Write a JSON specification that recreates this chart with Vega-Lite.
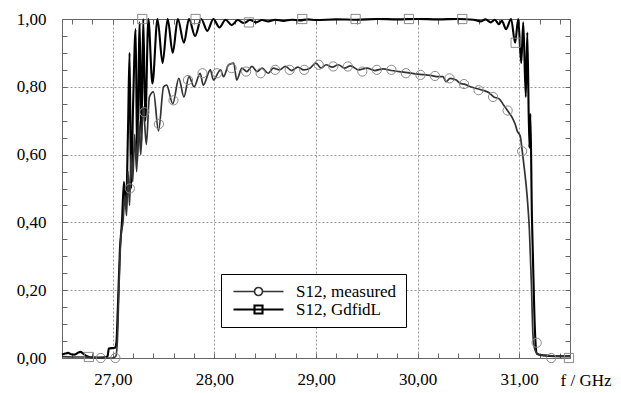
{
  "$schema": "https://vega.github.io/schema/vega-lite/v6.json",
  "width": 508,
  "height": 339,
  "autosize": "none",
  "padding": {"left": 62, "top": 19, "right": 51, "bottom": 35},
  "background": "#ffffff",
  "config": {
    "view": {"stroke": null},
    "font": "Liberation Serif",
    "axis": {"labelFont": "Liberation Serif", "titleFont": "Liberation Serif", "labelFontSize": 17, "titleFontSize": 17, "labelColor": "#000", "titleColor": "#000", "titleFontWeight": "normal", "domainColor": "#666", "tickColor": "#666"}
  },
  "datasets": {
    "curves": [
      {"f": 26.50, "s": 0.010, "series": "S12, GdfidL"},
      {"f": 26.53, "s": 0.013, "series": "S12, GdfidL"},
      {"f": 26.56, "s": 0.015, "series": "S12, GdfidL"},
      {"f": 26.59, "s": 0.011, "series": "S12, GdfidL"},
      {"f": 26.62, "s": 0.010, "series": "S12, GdfidL"},
      {"f": 26.65, "s": 0.014, "series": "S12, GdfidL"},
      {"f": 26.68, "s": 0.018, "series": "S12, GdfidL"},
      {"f": 26.71, "s": 0.013, "series": "S12, GdfidL"},
      {"f": 26.74, "s": 0.006, "series": "S12, GdfidL"},
      {"f": 26.78, "s": 0.002, "series": "S12, GdfidL"},
      {"f": 26.85, "s": 0.001, "series": "S12, GdfidL"},
      {"f": 26.92, "s": 0.002, "series": "S12, GdfidL"},
      {"f": 26.95, "s": 0.006, "series": "S12, GdfidL"},
      {"f": 26.96, "s": 0.028, "series": "S12, GdfidL"},
      {"f": 27.02, "s": 0.030, "series": "S12, GdfidL"},
      {"f": 27.035, "s": 0.045, "series": "S12, GdfidL"},
      {"f": 27.05, "s": 0.15, "series": "S12, GdfidL"},
      {"f": 27.07, "s": 0.32, "series": "S12, GdfidL"},
      {"f": 27.09, "s": 0.40, "series": "S12, GdfidL"},
      {"f": 27.11, "s": 0.52, "series": "S12, GdfidL"},
      {"f": 27.13, "s": 0.44, "series": "S12, GdfidL"},
      {"f": 27.15, "s": 0.68, "series": "S12, GdfidL"},
      {"f": 27.165, "s": 0.90, "series": "S12, GdfidL"},
      {"f": 27.18, "s": 0.50, "series": "S12, GdfidL"},
      {"f": 27.20, "s": 0.75, "series": "S12, GdfidL"},
      {"f": 27.225, "s": 0.97, "series": "S12, GdfidL"},
      {"f": 27.24, "s": 0.58, "series": "S12, GdfidL"},
      {"f": 27.265, "s": 0.99, "series": "S12, GdfidL"},
      {"f": 27.28, "s": 0.64, "series": "S12, GdfidL"},
      {"f": 27.30, "s": 1.00, "series": "S12, GdfidL"},
      {"f": 27.32, "s": 0.70, "series": "S12, GdfidL"},
      {"f": 27.35, "s": 1.00, "series": "S12, GdfidL"},
      {"f": 27.39, "s": 0.81, "series": "S12, GdfidL"},
      {"f": 27.44, "s": 1.00, "series": "S12, GdfidL"},
      {"f": 27.49, "s": 0.87, "series": "S12, GdfidL"},
      {"f": 27.54, "s": 1.00, "series": "S12, GdfidL"},
      {"f": 27.59, "s": 0.90, "series": "S12, GdfidL"},
      {"f": 27.64, "s": 1.00, "series": "S12, GdfidL"},
      {"f": 27.70, "s": 0.93, "series": "S12, GdfidL"},
      {"f": 27.75, "s": 1.00, "series": "S12, GdfidL"},
      {"f": 27.81, "s": 0.95, "series": "S12, GdfidL"},
      {"f": 27.87, "s": 1.00, "series": "S12, GdfidL"},
      {"f": 27.93, "s": 0.965, "series": "S12, GdfidL"},
      {"f": 27.99, "s": 1.00, "series": "S12, GdfidL"},
      {"f": 28.05, "s": 0.975, "series": "S12, GdfidL"},
      {"f": 28.11, "s": 0.998, "series": "S12, GdfidL"},
      {"f": 28.17, "s": 0.982, "series": "S12, GdfidL"},
      {"f": 28.23, "s": 0.997, "series": "S12, GdfidL"},
      {"f": 28.29, "s": 0.988, "series": "S12, GdfidL"},
      {"f": 28.35, "s": 0.997, "series": "S12, GdfidL"},
      {"f": 28.41, "s": 0.990, "series": "S12, GdfidL"},
      {"f": 28.47, "s": 0.997, "series": "S12, GdfidL"},
      {"f": 28.53, "s": 0.993, "series": "S12, GdfidL"},
      {"f": 28.60, "s": 0.998, "series": "S12, GdfidL"},
      {"f": 28.68, "s": 0.994, "series": "S12, GdfidL"},
      {"f": 28.76, "s": 0.998, "series": "S12, GdfidL"},
      {"f": 28.84, "s": 0.996, "series": "S12, GdfidL"},
      {"f": 28.92, "s": 0.999, "series": "S12, GdfidL"},
      {"f": 29.00, "s": 0.997, "series": "S12, GdfidL"},
      {"f": 29.20, "s": 0.999, "series": "S12, GdfidL"},
      {"f": 29.40, "s": 0.998, "series": "S12, GdfidL"},
      {"f": 29.60, "s": 1.000, "series": "S12, GdfidL"},
      {"f": 29.80, "s": 0.999, "series": "S12, GdfidL"},
      {"f": 30.00, "s": 1.000, "series": "S12, GdfidL"},
      {"f": 30.20, "s": 0.999, "series": "S12, GdfidL"},
      {"f": 30.40, "s": 1.000, "series": "S12, GdfidL"},
      {"f": 30.55, "s": 0.998, "series": "S12, GdfidL"},
      {"f": 30.62, "s": 0.993, "series": "S12, GdfidL"},
      {"f": 30.67, "s": 0.999, "series": "S12, GdfidL"},
      {"f": 30.72, "s": 0.990, "series": "S12, GdfidL"},
      {"f": 30.76, "s": 0.998, "series": "S12, GdfidL"},
      {"f": 30.80, "s": 0.985, "series": "S12, GdfidL"},
      {"f": 30.83, "s": 0.995, "series": "S12, GdfidL"},
      {"f": 30.87, "s": 0.970, "series": "S12, GdfidL"},
      {"f": 30.92, "s": 1.000, "series": "S12, GdfidL"},
      {"f": 30.96, "s": 0.930, "series": "S12, GdfidL"},
      {"f": 30.99, "s": 1.000, "series": "S12, GdfidL"},
      {"f": 31.02, "s": 0.870, "series": "S12, GdfidL"},
      {"f": 31.04, "s": 0.990, "series": "S12, GdfidL"},
      {"f": 31.065, "s": 0.770, "series": "S12, GdfidL"},
      {"f": 31.08, "s": 0.960, "series": "S12, GdfidL"},
      {"f": 31.10, "s": 0.620, "series": "S12, GdfidL"},
      {"f": 31.11, "s": 0.720, "series": "S12, GdfidL"},
      {"f": 31.125, "s": 0.420, "series": "S12, GdfidL"},
      {"f": 31.135, "s": 0.300, "series": "S12, GdfidL"},
      {"f": 31.155, "s": 0.080, "series": "S12, GdfidL"},
      {"f": 31.175, "s": 0.012, "series": "S12, GdfidL"},
      {"f": 31.22, "s": 0.008, "series": "S12, GdfidL"},
      {"f": 31.30, "s": 0.006, "series": "S12, GdfidL"},
      {"f": 31.40, "s": 0.005, "series": "S12, GdfidL"},
      {"f": 31.50, "s": 0.005, "series": "S12, GdfidL"},

      {"f": 26.50, "s": 0.004, "series": "S12, measured"},
      {"f": 26.60, "s": 0.003, "series": "S12, measured"},
      {"f": 26.70, "s": 0.003, "series": "S12, measured"},
      {"f": 26.80, "s": 0.002, "series": "S12, measured"},
      {"f": 26.90, "s": 0.000, "series": "S12, measured"},
      {"f": 27.00, "s": 0.000, "series": "S12, measured"},
      {"f": 27.03, "s": 0.005, "series": "S12, measured"},
      {"f": 27.045, "s": 0.05, "series": "S12, measured"},
      {"f": 27.06, "s": 0.20, "series": "S12, measured"},
      {"f": 27.08, "s": 0.36, "series": "S12, measured"},
      {"f": 27.10, "s": 0.40, "series": "S12, measured"},
      {"f": 27.12, "s": 0.48, "series": "S12, measured"},
      {"f": 27.135, "s": 0.42, "series": "S12, measured"},
      {"f": 27.15, "s": 0.55, "series": "S12, measured"},
      {"f": 27.165, "s": 0.45, "series": "S12, measured"},
      {"f": 27.18, "s": 0.60, "series": "S12, measured"},
      {"f": 27.196, "s": 0.52, "series": "S12, measured"},
      {"f": 27.215, "s": 0.66, "series": "S12, measured"},
      {"f": 27.235, "s": 0.55, "series": "S12, measured"},
      {"f": 27.255, "s": 0.70, "series": "S12, measured"},
      {"f": 27.275, "s": 0.60, "series": "S12, measured"},
      {"f": 27.30, "s": 0.74, "series": "S12, measured"},
      {"f": 27.33, "s": 0.63, "series": "S12, measured"},
      {"f": 27.36, "s": 0.77, "series": "S12, measured"},
      {"f": 27.40, "s": 0.785, "series": "S12, measured"},
      {"f": 27.45, "s": 0.67, "series": "S12, measured"},
      {"f": 27.50, "s": 0.80, "series": "S12, measured"},
      {"f": 27.53, "s": 0.805, "series": "S12, measured"},
      {"f": 27.59, "s": 0.75, "series": "S12, measured"},
      {"f": 27.65, "s": 0.825, "series": "S12, measured"},
      {"f": 27.70, "s": 0.77, "series": "S12, measured"},
      {"f": 27.75, "s": 0.83, "series": "S12, measured"},
      {"f": 27.80, "s": 0.80, "series": "S12, measured"},
      {"f": 27.86, "s": 0.84, "series": "S12, measured"},
      {"f": 27.89, "s": 0.805, "series": "S12, measured"},
      {"f": 27.96, "s": 0.85, "series": "S12, measured"},
      {"f": 27.99, "s": 0.82, "series": "S12, measured"},
      {"f": 28.06, "s": 0.85, "series": "S12, measured"},
      {"f": 28.09, "s": 0.83, "series": "S12, measured"},
      {"f": 28.14, "s": 0.865, "series": "S12, measured"},
      {"f": 28.19, "s": 0.87, "series": "S12, measured"},
      {"f": 28.22, "s": 0.82, "series": "S12, measured"},
      {"f": 28.27, "s": 0.855, "series": "S12, measured"},
      {"f": 28.32, "s": 0.845, "series": "S12, measured"},
      {"f": 28.37, "s": 0.86, "series": "S12, measured"},
      {"f": 28.42, "s": 0.845, "series": "S12, measured"},
      {"f": 28.47, "s": 0.855, "series": "S12, measured"},
      {"f": 28.53, "s": 0.84, "series": "S12, measured"},
      {"f": 28.58, "s": 0.855, "series": "S12, measured"},
      {"f": 28.64, "s": 0.85, "series": "S12, measured"},
      {"f": 28.70, "s": 0.86, "series": "S12, measured"},
      {"f": 28.76, "s": 0.848, "series": "S12, measured"},
      {"f": 28.82, "s": 0.858, "series": "S12, measured"},
      {"f": 28.88, "s": 0.85, "series": "S12, measured"},
      {"f": 28.94, "s": 0.855, "series": "S12, measured"},
      {"f": 29.00, "s": 0.87, "series": "S12, measured"},
      {"f": 29.05, "s": 0.855, "series": "S12, measured"},
      {"f": 29.10, "s": 0.865, "series": "S12, measured"},
      {"f": 29.16, "s": 0.858, "series": "S12, measured"},
      {"f": 29.22, "s": 0.865, "series": "S12, measured"},
      {"f": 29.28, "s": 0.855, "series": "S12, measured"},
      {"f": 29.34, "s": 0.862, "series": "S12, measured"},
      {"f": 29.42, "s": 0.85, "series": "S12, measured"},
      {"f": 29.50, "s": 0.855, "series": "S12, measured"},
      {"f": 29.58, "s": 0.848, "series": "S12, measured"},
      {"f": 29.66, "s": 0.853, "series": "S12, measured"},
      {"f": 29.74, "s": 0.848, "series": "S12, measured"},
      {"f": 29.82, "s": 0.845, "series": "S12, measured"},
      {"f": 29.90, "s": 0.842, "series": "S12, measured"},
      {"f": 29.98, "s": 0.838, "series": "S12, measured"},
      {"f": 30.06, "s": 0.836, "series": "S12, measured"},
      {"f": 30.14, "s": 0.833, "series": "S12, measured"},
      {"f": 30.20, "s": 0.83, "series": "S12, measured"},
      {"f": 30.25, "s": 0.83, "series": "S12, measured"},
      {"f": 30.28, "s": 0.815, "series": "S12, measured"},
      {"f": 30.32, "s": 0.825, "series": "S12, measured"},
      {"f": 30.38, "s": 0.82, "series": "S12, measured"},
      {"f": 30.42, "s": 0.81, "series": "S12, measured"},
      {"f": 30.46, "s": 0.808, "series": "S12, measured"},
      {"f": 30.52, "s": 0.80, "series": "S12, measured"},
      {"f": 30.58, "s": 0.795, "series": "S12, measured"},
      {"f": 30.64, "s": 0.79, "series": "S12, measured"},
      {"f": 30.70, "s": 0.783, "series": "S12, measured"},
      {"f": 30.75, "s": 0.77, "series": "S12, measured"},
      {"f": 30.80, "s": 0.765, "series": "S12, measured"},
      {"f": 30.85, "s": 0.745, "series": "S12, measured"},
      {"f": 30.89, "s": 0.728, "series": "S12, measured"},
      {"f": 30.93, "s": 0.71, "series": "S12, measured"},
      {"f": 30.96, "s": 0.69, "series": "S12, measured"},
      {"f": 30.98, "s": 0.67, "series": "S12, measured"},
      {"f": 31.01, "s": 0.655, "series": "S12, measured"},
      {"f": 31.03, "s": 0.61, "series": "S12, measured"},
      {"f": 31.05, "s": 0.56, "series": "S12, measured"},
      {"f": 31.08, "s": 0.47, "series": "S12, measured"},
      {"f": 31.10, "s": 0.38, "series": "S12, measured"},
      {"f": 31.12, "s": 0.22, "series": "S12, measured"},
      {"f": 31.135, "s": 0.07, "series": "S12, measured"},
      {"f": 31.15, "s": 0.03, "series": "S12, measured"},
      {"f": 31.17, "s": 0.015, "series": "S12, measured"},
      {"f": 31.20, "s": 0.01, "series": "S12, measured"},
      {"f": 31.30, "s": 0.007, "series": "S12, measured"},
      {"f": 31.40, "s": 0.005, "series": "S12, measured"},
      {"f": 31.50, "s": 0.005, "series": "S12, measured"}
    ],
    "markers": [
      {"f": 26.882, "s": 0.0, "kind": "measured"},
      {"f": 27.025, "s": 0.0, "kind": "measured"},
      {"f": 27.168, "s": 0.50, "kind": "measured"},
      {"f": 27.311, "s": 0.725, "kind": "measured"},
      {"f": 27.454, "s": 0.69, "kind": "measured"},
      {"f": 27.597, "s": 0.76, "kind": "measured"},
      {"f": 27.74, "s": 0.82, "kind": "measured"},
      {"f": 27.883, "s": 0.84, "kind": "measured"},
      {"f": 28.026, "s": 0.84, "kind": "measured"},
      {"f": 28.169, "s": 0.855, "kind": "measured"},
      {"f": 28.312, "s": 0.845, "kind": "measured"},
      {"f": 28.455, "s": 0.84, "kind": "measured"},
      {"f": 28.598, "s": 0.85, "kind": "measured"},
      {"f": 28.741, "s": 0.85, "kind": "measured"},
      {"f": 28.884, "s": 0.85, "kind": "measured"},
      {"f": 29.027, "s": 0.865, "kind": "measured"},
      {"f": 29.17, "s": 0.86, "kind": "measured"},
      {"f": 29.313, "s": 0.86, "kind": "measured"},
      {"f": 29.456, "s": 0.845, "kind": "measured"},
      {"f": 29.599, "s": 0.85, "kind": "measured"},
      {"f": 29.742, "s": 0.85, "kind": "measured"},
      {"f": 29.885, "s": 0.84, "kind": "measured"},
      {"f": 30.028, "s": 0.835, "kind": "measured"},
      {"f": 30.171, "s": 0.832, "kind": "measured"},
      {"f": 30.314, "s": 0.825, "kind": "measured"},
      {"f": 30.457, "s": 0.808, "kind": "measured"},
      {"f": 30.60, "s": 0.79, "kind": "measured"},
      {"f": 30.743, "s": 0.77, "kind": "measured"},
      {"f": 30.886, "s": 0.73, "kind": "measured"},
      {"f": 31.029, "s": 0.61, "kind": "measured"},
      {"f": 31.172, "s": 0.045, "kind": "measured"},
      {"f": 31.315, "s": 0.0, "kind": "measured"},
      {"f": 26.765, "s": 0.003, "kind": "GdfidL"},
      {"f": 27.29, "s": 1.0, "kind": "GdfidL"},
      {"f": 27.815, "s": 1.0, "kind": "GdfidL"},
      {"f": 28.34, "s": 0.99, "kind": "GdfidL"},
      {"f": 28.865, "s": 1.0, "kind": "GdfidL"},
      {"f": 29.39, "s": 1.0, "kind": "GdfidL"},
      {"f": 29.915, "s": 1.0, "kind": "GdfidL"},
      {"f": 30.44, "s": 1.0, "kind": "GdfidL"},
      {"f": 30.965, "s": 0.93, "kind": "GdfidL"},
      {"f": 31.49, "s": 0.0, "kind": "GdfidL"}
    ]
  },
  "layer": [
    {
      "data": {"name": "curves"},
      "mark": {"type": "line", "interpolate": "monotone"},
      "encoding": {
        "x": {
          "field": "f", "type": "quantitative",
          "scale": {"domain": [26.5, 31.5], "nice": false, "zero": false},
          "axis": {
            "values": [26.6, 26.8, 27, 27.2, 27.4, 27.6, 27.8, 28, 28.2, 28.4, 28.6, 28.8, 29, 29.2, 29.4, 29.6, 29.8, 30, 30.2, 30.4, 30.6, 30.8, 31, 31.2, 31.4],
            "labelExpr": "abs(datum.value - round(datum.value)) < 0.001 ? replace(format(datum.value, '.2f'), '.', ',') : ''",
            "labelFlush": false, "labelOverlap": false,
            "grid": true, "gridColor": "#999", "gridDash": [2, 2], "gridWidth": 1,
            "gridOpacity": {"condition": {"test": "abs(datum.value - round(datum.value)) < 0.001", "value": 1}, "value": 0},
            "tickSize": -5, "labelPadding": 18,
            "title": "f / GHz", "titleX": 549, "titleY": 27, "titleAlign": "right", "titleBaseline": "alphabetic", "titleAnchor": null
          }
        },
        "y": {
          "field": "s", "type": "quantitative",
          "scale": {"domain": [0, 1], "nice": false},
          "axis": {
            "values": [0, 0.05, 0.1, 0.15, 0.2, 0.25, 0.3, 0.35, 0.4, 0.45, 0.5, 0.55, 0.6, 0.65, 0.7, 0.75, 0.8, 0.85, 0.9, 0.95, 1],
            "labelExpr": "abs(datum.value * 5 - round(datum.value * 5)) < 0.001 ? replace(format(datum.value, '.2f'), '.', ',') : ''",
            "labelFlush": false, "labelOverlap": false,
            "grid": true, "gridColor": "#999", "gridDash": [2, 2], "gridWidth": 1,
            "gridOpacity": {"condition": {"test": "abs(datum.value * 5 - round(datum.value * 5)) < 0.001", "value": 1}, "value": 0},
            "tickSize": -5, "labelPadding": 21,
            "title": null
          }
        },
        "color": {
          "field": "series", "type": "nominal",
          "scale": {"domain": ["S12, measured", "S12, GdfidL"], "range": ["#333333", "#000000"]},
          "legend": {
            "title": null, "orient": "none", "legendX": 159, "legendY": 255,
            "padding": 9, "strokeColor": "#000", "fillColor": "#fff",
            "labelFont": "Liberation Serif", "labelFontSize": 17, "labelColor": "#000",
            "symbolSize": 100, "symbolOffset": 20, "labelOffset": 29, "rowPadding": 0,
            "symbolStrokeWidth": 1.5,
            "encode": {
              "symbols": {
                "update": {
                  "shape": {"signal": "datum.value === 'S12, measured' ? 'M-5,0H-0.8M0.8,0H5M0.8,0A0.8,0.8,0,1,1,-0.8,0A0.8,0.8,0,1,1,0.8,0' : 'M-5,0H5M-0.8,-0.8H0.8V0.8H-0.8Z'"},
                  "fill": {"value": "transparent"},
                  "strokeWidth": {"signal": "datum.value === 'S12, measured' ? 1.3 : 2"}
                }
              }
            }
          }
        },
        "strokeWidth": {
          "field": "series", "type": "nominal",
          "scale": {"domain": ["S12, measured", "S12, GdfidL"], "range": [1.7, 2.1]},
          "legend": null
        }
      }
    },
    {
      "data": {"name": "markers"},
      "mark": {"type": "point", "filled": false, "stroke": "#8a8a8a", "strokeWidth": 1, "size": 85, "opacity": 1},
      "encoding": {
        "x": {
          "field": "f", "type": "quantitative",
          "axis": {
            "orient": "top",
            "values": [26.6, 26.8, 27, 27.2, 27.4, 27.6, 27.8, 28, 28.2, 28.4, 28.6, 28.8, 29, 29.2, 29.4, 29.6, 29.8, 30, 30.2, 30.4, 30.6, 30.8, 31, 31.2, 31.4],
            "labels": false, "grid": false, "tickSize": -5, "title": null
          }
        },
        "y": {
          "field": "s", "type": "quantitative",
          "axis": {
            "orient": "right",
            "values": [0, 0.05, 0.1, 0.15, 0.2, 0.25, 0.3, 0.35, 0.4, 0.45, 0.5, 0.55, 0.6, 0.65, 0.7, 0.75, 0.8, 0.85, 0.9, 0.95, 1],
            "labels": false, "grid": false, "tickSize": -5, "title": null
          }
        },
        "shape": {
          "field": "kind", "type": "nominal",
          "scale": {"domain": ["measured", "GdfidL"], "range": ["circle", "square"]},
          "legend": null
        }
      }
    }
  ],
  "resolve": {"axis": {"x": "independent", "y": "independent"}}
}
